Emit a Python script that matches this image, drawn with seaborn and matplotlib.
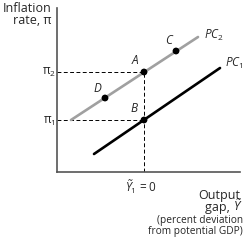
import matplotlib
matplotlib.use("Agg")
import matplotlib.pyplot as plt
import seaborn as sns

sns.set_theme(style="white")
FONT = 'Open Sans'
plt.rcParams['font.family'] = [FONT, 'DejaVu Sans']
plt.rcParams['mathtext.fontset'] = 'custom'
plt.rcParams['mathtext.rm'] = FONT
plt.rcParams['mathtext.it'] = FONT + ':italic'

# Data (output gap, inflation) in arbitrary chart units
pc2_x = [-73, 54]
pc2_y = [52, 135]
pc1_x = [-50, 76]
pc1_y = [18, 104]
point_names = ["A", "B", "C", "D"]
point_x = [0, 0, 32, -39]
point_y = [100, 52, 121, 74]
pi1, pi2 = 52, 100

W, H = 245, 240
fig = plt.figure(figsize=(W/100, H/100), dpi=100)
ax = fig.add_axes([57/W, (H-172)/H, (240-57)/W, (172-8)/H])
ax.set_xlim(-87, 96)
ax.set_ylim(0, 164)

dash = (0, (4, 2.5))
ax.plot([-87, 0], [pi2, pi2], ls=dash, color="black", lw=0.7)
ax.plot([-87, 0], [pi1, pi1], ls=dash, color="black", lw=0.7)
ax.plot([0, 0], [0, pi2], ls=dash, color="black", lw=0.7)

sns.lineplot(x=pc2_x, y=pc2_y, ax=ax, color="#a0a0a0", lw=1.9)
sns.lineplot(x=pc1_x, y=pc1_y, ax=ax, color="black", lw=1.9)
sns.scatterplot(x=point_x, y=point_y, ax=ax, color="black", s=24, edgecolor="none", zorder=5)

offsets = {"A": (-9, 11), "B": (-10, 11), "C": (-7, 10), "D": (-8, 10)}
for n, px, py in zip(point_names, point_x, point_y):
    dx, dy = offsets[n]
    ax.text(px + dx, py + dy, n, fontsize=8.5, style="italic", ha="center", va="center")

ax.text(pc2_x[1] + 16, pc2_y[1] + 2, "PC$_2$", fontsize=8.5, style="italic", ha="center", va="center")
ax.text(pc1_x[1] + 14, pc1_y[1] + 5, "PC$_1$", fontsize=8.5, style="italic", ha="center", va="center")

ax.set_xticks([])
ax.set_yticks([])
for s in ["top", "right"]:
    ax.spines[s].set_visible(False)
for s in ["left", "bottom"]:
    ax.spines[s].set_color("#555555")
    ax.spines[s].set_linewidth(1.2)

ax.text(-95, pi2, "π$_2$", fontsize=8.5, ha="center", va="center")
ax.text(-95, pi1 - 1, "π$_1$", fontsize=8.5, ha="center", va="center")
ax.text(-3, -14.5, "$\\mathit{Ỹ}_1$ = 0", fontsize=8.5, ha="center", va="center")

def fy(py):
    return 1 - py / H

fig.text(51/W, fy(14), "Inflation\nrate, π", fontsize=9, ha="right", va="center",
         multialignment="right", linespacing=0.9)
fig.text(240/W, fy(195), "Output", fontsize=9, ha="right", va="center")
ty = fig.text(240/W, fy(210.5), "Ỹ", fontsize=9, style="italic", ha="right", va="baseline")
fig.canvas.draw()
bb = ty.get_window_extent()
fig.text((bb.x0 - 1) / W, fy(210.5), "gap, ", fontsize=9, ha="right", va="baseline")
fig.text(243/W, fy(226), "(percent deviation\nfrom potential GDP)", fontsize=7.3, ha="right", va="center",
         multialignment="right", linespacing=0.95)

fig.savefig("out.png", dpi=100)
